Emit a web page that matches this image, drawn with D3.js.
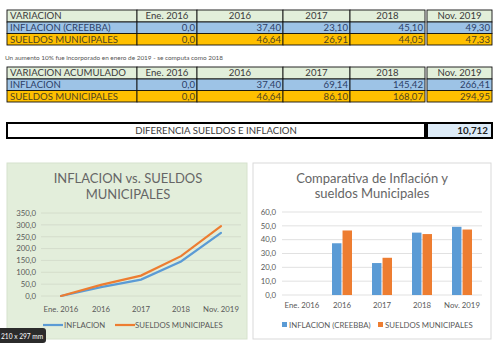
<!DOCTYPE html>
<html><head><meta charset="utf-8">
<script src="https://cdn.jsdelivr.net/npm/d3@7"></script>
<style>html,body{margin:0;padding:0;background:#fff;}svg{display:block;}</style>
</head><body>
<svg id="c" width="500" height="345"></svg>
<script>
const categories = ["Ene. 2016", "2016", "2017", "2018", "Nov. 2019"];
const inflacionVar = [0, 37.40, 23.10, 45.10, 49.30];
const sueldosVar = [0, 46.64, 26.91, 44.05, 47.33];
const inflacionAcum = [0, 37.40, 69.14, 145.42, 266.41];
const sueldosAcum = [0, 46.64, 86.10, 168.07, 294.95];
const diferencia = 10.712;
const lineTicks = [0, 50, 100, 150, 200, 250, 300, 350];
const barTicks = [0, 10, 20, 30, 40, 50, 60];

const svg = d3.select("#c");
const FONT = "Lato, 'Open Sans', sans-serif";
const fmtCell = v => v === 0 ? "0,0" : v.toFixed(2).replace(".", ",");
const fmtTick = v => v.toFixed(1).replace(".", ",");

// ---------- Tables ----------
const colX = [7, 137, 197, 283, 350, 427];
const colW = [130, 60, 86, 67, 75, 65];
const colors = { head: "#e2efda", infl: "#9dc3e6", suel: "#ffc000" };
const txtColors = { head: "#3a3a3a", infl: "#2c4066", suel: "#4f4420" };

function drawTable(y0, rows) {
  const g = svg.append("g");
  const rh = [12, 11.5, 11.5];
  let y = y0;
  rows.forEach((r, ri) => {
    const h = rh[ri];
    const cells = [r.label].concat(r.values);
    cells.forEach((c, ci) => {
      g.append("rect").attr("x", colX[ci]).attr("y", y).attr("width", colW[ci]).attr("height", h)
        .attr("fill", colors[r.kind]).attr("stroke", "#111").attr("stroke-width", 0.9);
      const isLabel = ci === 0;
      const isHead = r.kind === "head";
      let tx, anchor;
      if (isLabel) { tx = colX[ci] + 3; anchor = "start"; }
      else if (isHead) { tx = colX[ci] + colW[ci] / 2; anchor = "middle"; }
      else { tx = colX[ci] + colW[ci] - 2; anchor = "end"; }
      g.append("text").attr("x", tx).attr("y", y + h / 2 + 3.4)
        .attr("text-anchor", anchor).attr("font-family", FONT).attr("font-size", 9.6)
        .attr("fill", txtColors[r.kind])
        .text(isLabel || isHead ? c : fmtCell(c));
    });
    y += h;
  });
}

drawTable(10, [
  { kind: "head", label: "VARIACION", values: categories },
  { kind: "infl", label: "INFLACION (CREEBBA)", values: inflacionVar },
  { kind: "suel", label: "SUELDOS MUNICIPALES", values: sueldosVar }
]);

svg.append("text").attr("x", 5).attr("y", 59.5).attr("font-family", FONT).attr("font-size", 6.4)
  .attr("fill", "#555").text("Un aumento 10% fue  incorporado en enero de 2019 - se computa como 2018");

drawTable(67, [
  { kind: "head", label: "VARIACION ACUMULADO", values: categories },
  { kind: "infl", label: "INFLACION", values: inflacionAcum },
  { kind: "suel", label: "SUELDOS MUNICIPALES", values: sueldosAcum }
]);

// Diferencia box
svg.append("rect").attr("x", 7).attr("y", 123).attr("width", 418).attr("height", 15)
  .attr("fill", "#fff").attr("stroke", "#000").attr("stroke-width", 2);
svg.append("rect").attr("x", 427).attr("y", 123).attr("width", 65).attr("height", 15)
  .attr("fill", "#ddebf7").attr("stroke", "#000").attr("stroke-width", 2);
svg.append("text").attr("x", 216).attr("y", 134).attr("text-anchor", "middle")
  .attr("font-family", FONT).attr("font-size", 9.6).attr("fill", "#3a3a3a").text("DIFERENCIA SUELDOS E INFLACION");
svg.append("text").attr("x", 488).attr("y", 134).attr("text-anchor", "end")
  .attr("font-family", FONT).attr("font-size", 9.8).attr("font-weight", "bold").attr("fill", "#222")
  .text(diferencia.toFixed(3).replace(".", ","));

// ---------- Line chart ----------
const lc = svg.append("g");
lc.append("rect").attr("x", 7).attr("y", 163).attr("width", 240).attr("height", 176)
  .attr("fill", "#e3eedb").attr("stroke", "#d6e2cd");
lc.append("text").attr("x", 128).attr("y", 183).attr("text-anchor", "middle").attr("font-family", FONT)
  .attr("font-size", 13).attr("fill", "#666").text("INFLACION vs. SUELDOS");
lc.append("text").attr("x", 128).attr("y", 199).attr("text-anchor", "middle").attr("font-family", FONT)
  .attr("font-size", 13).attr("fill", "#666").text("MUNICIPALES");

const xL = d3.scalePoint().domain(categories).range([41, 241]).padding(0.5);
const yL = d3.scaleLinear().domain([0, 350]).range([296, 213]);
lc.append("g").selectAll("line").data(lineTicks).join("line")
  .attr("x1", 41).attr("x2", 241).attr("y1", d => yL(d)).attr("y2", d => yL(d))
  .attr("stroke", "#d0d8c8").attr("stroke-width", 0.8);
lc.append("g").selectAll("text").data(lineTicks).join("text")
  .attr("x", 36).attr("y", d => yL(d) + 2.8).attr("text-anchor", "end")
  .attr("font-family", FONT).attr("font-size", 7.8).attr("fill", "#595959").text(fmtTick);
lc.append("g").selectAll("text").data(categories).join("text")
  .attr("x", d => xL(d)).attr("y", 312).attr("text-anchor", "middle")
  .attr("font-family", FONT).attr("font-size", 7.8).attr("fill", "#595959").text(d => d);

const line = d3.line().x((d, i) => xL(categories[i])).y(d => yL(d));
lc.append("path").datum(inflacionAcum).attr("d", line).attr("fill", "none")
  .attr("stroke", "#5b9bd5").attr("stroke-width", 2.2).attr("stroke-linecap", "round");
lc.append("path").datum(sueldosAcum).attr("d", line).attr("fill", "none")
  .attr("stroke", "#ed7d31").attr("stroke-width", 2.2).attr("stroke-linecap", "round");

lc.append("line").attr("x1", 43).attr("x2", 63).attr("y1", 325).attr("y2", 325).attr("stroke", "#5b9bd5").attr("stroke-width", 2.2);
lc.append("text").attr("x", 64).attr("y", 328).attr("font-family", FONT).attr("font-size", 7.8).attr("fill", "#595959").text("INFLACION");
lc.append("line").attr("x1", 115).attr("x2", 135).attr("y1", 325).attr("y2", 325).attr("stroke", "#ed7d31").attr("stroke-width", 2.2);
lc.append("text").attr("x", 135).attr("y", 328).attr("font-family", FONT).attr("font-size", 7.8).attr("fill", "#595959").text("SUELDOS MUNICIPALES");

// ---------- Bar chart ----------
const bc = svg.append("g");
bc.append("rect").attr("x", 253).attr("y", 163).attr("width", 238).attr("height", 176)
  .attr("fill", "#fff").attr("stroke", "#d9d9d9");
bc.append("text").attr("x", 372).attr("y", 183).attr("text-anchor", "middle").attr("font-family", FONT)
  .attr("font-size", 13).attr("fill", "#666").text("Comparativa de Inflación y");
bc.append("text").attr("x", 372).attr("y", 198).attr("text-anchor", "middle").attr("font-family", FONT)
  .attr("font-size", 13).attr("fill", "#666").text("sueldos Municipales");

const xB = d3.scaleBand().domain(categories).range([282, 482]).paddingInner(0.5).paddingOuter(0.25);
const xSub = d3.scaleBand().domain(["infl", "suel"]).range([0, xB.bandwidth()]).paddingInner(0.1);
const yB = d3.scaleLinear().domain([0, 60]).range([295, 212]);
bc.append("g").selectAll("line").data(barTicks).join("line")
  .attr("x1", 282).attr("x2", 482).attr("y1", d => yB(d)).attr("y2", d => yB(d))
  .attr("stroke", "#d9d9d9").attr("stroke-width", 0.8);
bc.append("g").selectAll("text").data(barTicks).join("text")
  .attr("x", 276).attr("y", d => yB(d) + 2.8).attr("text-anchor", "end")
  .attr("font-family", FONT).attr("font-size", 7.8).attr("fill", "#595959").text(fmtTick);
bc.append("g").selectAll("text").data(categories).join("text")
  .attr("x", d => xB(d) + xB.bandwidth() / 2).attr("y", 308).attr("text-anchor", "middle")
  .attr("font-family", FONT).attr("font-size", 7.8).attr("fill", "#595959").text(d => d);

const barData = [];
categories.forEach((c, i) => {
  barData.push({ c, k: "infl", v: inflacionVar[i] });
  barData.push({ c, k: "suel", v: sueldosVar[i] });
});
bc.append("g").selectAll("rect").data(barData).join("rect")
  .attr("x", d => xB(d.c) + xSub(d.k)).attr("width", xSub.bandwidth())
  .attr("y", d => yB(d.v)).attr("height", d => yB(0) - yB(d.v))
  .attr("fill", d => d.k === "infl" ? "#5b9bd5" : "#ed7d31");

bc.append("rect").attr("x", 282).attr("y", 322).attr("width", 5).attr("height", 5).attr("fill", "#5b9bd5");
bc.append("text").attr("x", 289).attr("y", 327.5).attr("font-family", FONT).attr("font-size", 7.8).attr("fill", "#595959").text("INFLACION (CREEBBA)");
bc.append("rect").attr("x", 378).attr("y", 322).attr("width", 5).attr("height", 5).attr("fill", "#ed7d31");
bc.append("text").attr("x", 385).attr("y", 327.5).attr("font-family", FONT).attr("font-size", 7.8).attr("fill", "#595959").text("SUELDOS MUNICIPALES");

// ---------- Tooltip overlay ----------
svg.append("rect").attr("x", -4).attr("y", 328).attr("width", 50).attr("height", 15).attr("rx", 3)
  .attr("fill", "#2b2b2b");
svg.append("text").attr("x", 1).attr("y", 338.5).attr("font-family", FONT).attr("font-size", 6.6)
  .attr("fill", "#fff").text("210 x 297 mm");
</script>
</body></html>
